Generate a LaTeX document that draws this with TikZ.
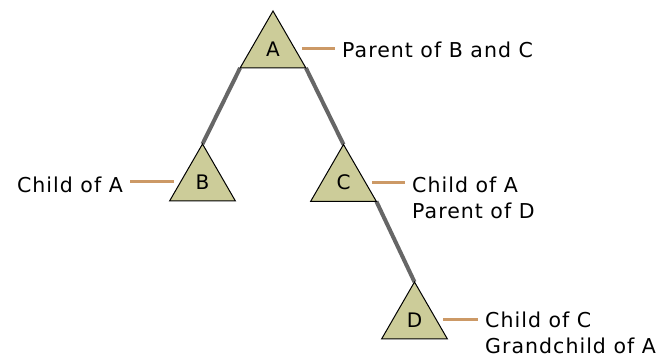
\documentclass[tikz,border=0pt]{standalone}
\usepackage{fontspec}
\setmainfont{DejaVu Sans}[LetterSpace=5]
\usetikzlibrary{shapes.geometric,backgrounds}
\definecolor{trifill}{RGB}{204,204,153}
\definecolor{tickcol}{RGB}{204,153,102}
\definecolor{edgecol}{RGB}{102,102,102}
\begin{document}
\begin{tikzpicture}[x=1pt,y=-1pt,
	tri/.style={regular polygon, regular polygon sides=3, minimum size=76pt, inner sep=0pt, outer sep=0pt, draw=black, line width=1pt, fill=trifill, font=\fontsize{20}{24}\selectfont},
	edge/.style={draw=edgecol, line width=4pt},
	tick/.style={draw=tickcol, line width=3pt, shorten <=7pt, shorten >=7pt},
	lbl/.style={align=left, inner sep=0pt, font=\fontsize{20.5}{26}\selectfont}]
	\useasboundingbox (0,0) rectangle (662,358);
	
	\node[tri] (A) at (273,49) {A};
	\node[tri] (B) at (202.5,182) {B};
	\node[tri] (C) at (343.5,182.5) {C};
	\node[tri] (D) at (414.5,320) {D};
	
	\begin{pgfonlayer}{background}
	\draw[edge] (A.corner 2) -- (B.corner 1);
	\draw[edge] (A.corner 3) -- (C.corner 1);
	\draw[edge] (C.corner 3) -- (D.corner 1);
	\end{pgfonlayer}
	
	\node[lbl, anchor=west] (pA) at (342,50) {Parent of B and C};
	\node[lbl, anchor=east] (cB) at (123,185) {Child of A};
	\node[lbl, anchor=west] (cC) at (412,198) {Child of A\\Parent of D};
	\node[lbl, anchor=west] (cD) at (485,332.5) {Child of C\\Grandchild of A};
	
	\draw[tick] (A.east) -- (A.east -| pA.west);
	\draw[tick] (B.west) -- (B.west -| cB.east);
	\draw[tick] (C.east) -- (C.east -| cC.west);
	\draw[tick] (D.east) -- (D.east -| cD.west);
	
\end{tikzpicture}
\end{document}
